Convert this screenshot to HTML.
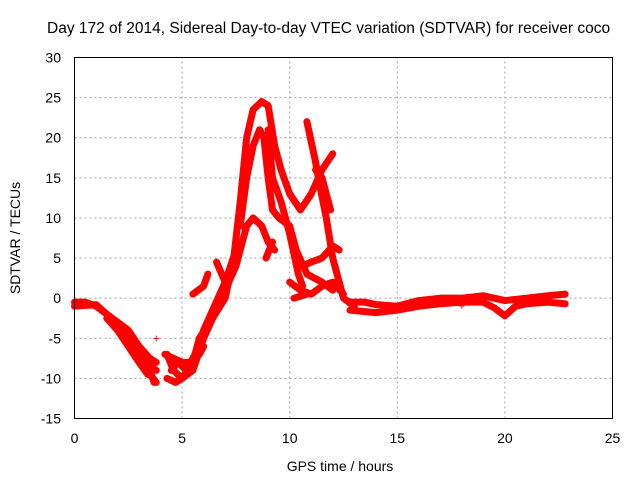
<!DOCTYPE html>
<html><head><meta charset="utf-8"><style>
body{margin:0;background:#fff;}
svg{display:block;font-family:"Liberation Sans",sans-serif;}
</style></head><body>
<svg id="chart" width="640" height="480" viewBox="0 0 640 480">
<rect width="640" height="480" fill="#fff"/>
<g id="grid"></g>
<g id="ticks"></g>
<g id="series"></g>
<rect x="74.5" y="57.5" width="538" height="361" fill="none" stroke="#000" stroke-width="1"/>
<text x="47" y="33" text-anchor="start" font-size="15.5">Day 172 of 2014, Sidereal Day-to-day VTEC variation (SDTVAR) for receiver coco</text>
<text x="340" y="471" text-anchor="middle" font-size="14">GPS time / hours</text>
<text transform="translate(20,238) rotate(-90)" text-anchor="middle" font-size="14">SDTVAR / TECUs</text>
</svg>
<script>
const xTicks=[0,5,10,15,20,25];
const yTicks=[-15,-10,-5,0,5,10,15,20,25,30];
const tracks=[
[[0,-0.5],[0.5,-0.5],[1,-1],[1.5,-2],[2,-3.5],[2.5,-5.5],[3,-7.5],[3.5,-9.5],[3.8,-10.5]],
[[0,-1],[1,-0.8],[1.5,-2],[2,-3],[2.5,-4],[3,-6],[3.5,-7.5],[3.8,-8]],
[[1.5,-2.5],[2,-4],[2.5,-6],[3,-8],[3.4,-9.5]],
[[2,-3],[2.5,-4.5],[3,-6.5],[3.5,-8.5],[3.8,-9]],
[[3.2,-7],[3.5,-9],[3.7,-10.5]],
[[4.3,-7],[4.6,-9],[5,-10],[5.5,-9],[6,-5],[6.5,-2],[7,1],[7.5,4],[8,9],[8.3,10],[8.7,9],[9,7],[9.3,6]],
[[4.3,-10],[4.7,-10.5],[5,-10],[5.5,-8],[5.8,-5],[6.3,-3],[7,0],[7.4,5],[7.7,12],[8,20],[8.3,23.5],[8.7,24.5],[9,24],[9.3,19],[9.6,16],[10,13],[10.5,11],[11,13],[11.5,16],[12,18]],
[[4.2,-7],[4.6,-7.5],[5,-8],[5.4,-8],[5.8,-7],[6,-6]],
[[4.5,-9],[4.8,-8],[5.2,-9],[5.6,-7],[6,-4],[6.5,-1],[7,2],[7.5,6]],
[[7.7,9],[8,15],[8.3,19],[8.6,21],[8.8,20],[9,15],[9.2,11],[9.5,10],[10,9],[10.3,6],[10.8,3],[11.5,2],[12,1]],
[[9,21],[9.2,15],[9.6,12],[10,8],[10.4,3],[10.6,1.5]],
[[10.8,22],[11.2,17],[11.4,14],[11.7,10],[12,5],[12.5,0],[13,-1]],
[[11.2,16],[11.5,15],[11.9,11]],
[[10.6,4],[11,4.5],[11.5,5],[12,6.5],[12.3,6]],
[[10,2],[10.5,1],[11,0.5],[11.5,1.5],[12,2],[12.5,0.5]],
[[10.2,0],[10.8,0.5]],
[[5.5,0.5],[6,1.5],[6.2,3]],
[[6.6,4.5],[7,2]],
[[8.9,5],[9.2,7]],
[[12.8,-0.5],[13.5,-0.5],[14,-0.8],[15,-1],[16,-0.3],[17,0],[18,0],[19,0.3],[19.5,0],[20,-0.3],[21,0],[22,0.3],[22.8,0.5]],
[[12.8,-1.5],[14,-1.8],[15,-1.5],[16,-1],[17,-0.7],[18,-0.5],[19,-0.5],[19.5,-1.2],[20,-2.2],[20.5,-1],[21,-0.7],[22,-0.5],[22.8,-0.7]]
];
const singles=[[3.8,-5],[18,-1]];
const X0=74.5,X1=612.5,Y0=418.5,Y1=57.5;
function sx(v){return X0+(v-0)/(25-0)*(X1-X0);}
function sy(v){return Y0-(v+15)/(45)*(Y0-Y1);}
const NS="http://www.w3.org/2000/svg";
const grid=document.getElementById('grid'),ticks=document.getElementById('ticks'),series=document.getElementById('series');
function mk(tag,attrs,parent){const e=document.createElementNS(NS,tag);for(const k in attrs)e.setAttribute(k,attrs[k]);parent.appendChild(e);return e;}
xTicks.forEach(t=>{
 const x=sx(t);
 if(t>0&&t<25){const g=mk('line',{x1:x,x2:x,y1:Y0,y2:Y1,stroke:'#a0a0a0','stroke-dasharray':'2,3'},grid);
 
 }
 const l=mk('text',{x:x,y:443,'text-anchor':'middle','font-size':'14'},ticks);l.textContent=t;
 
 
});
yTicks.forEach(t=>{
 const y=sy(t);
 if(t>-15&&t<30){const g=mk('line',{x1:X0,x2:X1,y1:y,y2:y,stroke:'#a0a0a0','stroke-dasharray':'2,3'},grid);
 
 }
 const l=mk('text',{x:61,y:y+5,'text-anchor':'end','font-size':'14'},ticks);l.textContent=t;
 
 
});
tracks.forEach(tr=>{
 const p=mk('polyline',{points:tr.map(d=>sx(d[0])+','+sy(d[1])).join(' '),fill:'none',stroke:'#ff0000','stroke-width':'7','stroke-linejoin':'round','stroke-linecap':'round'},series);
 
 
});
singles.forEach(d=>{
 const t=mk('text',{x:sx(d[0]),y:sy(d[1])+4,'text-anchor':'middle','font-size':'12',fill:'#ff0000'},series);t.textContent='+';
 
 
});
</script>
</body></html>
